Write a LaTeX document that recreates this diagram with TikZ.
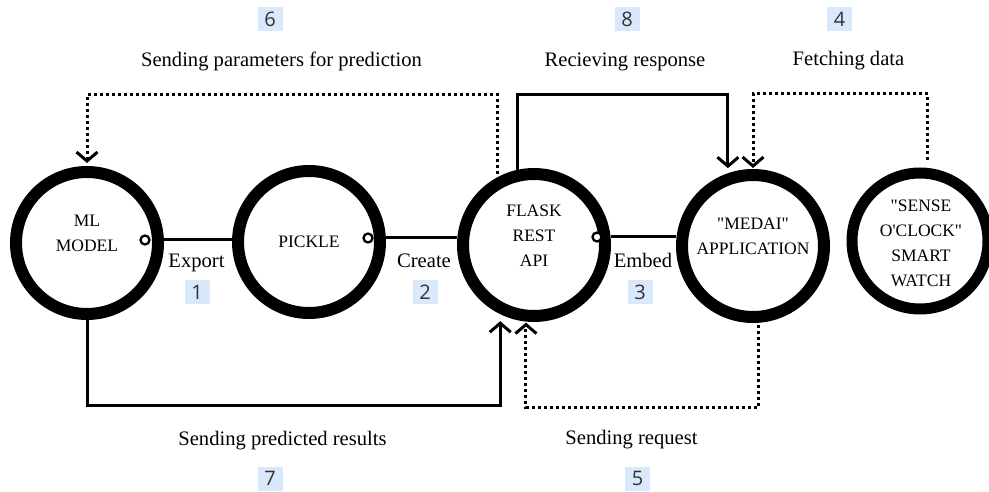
\documentclass[tikz,border=0pt]{standalone}
\usepackage{fontspec}
\setmainfont{Liberation Serif}
\newfontfamily\numfont{Open Sans}
\usetikzlibrary{arrows.meta,calc}
\definecolor{numblue}{HTML}{DAE8FC}
\definecolor{numtext}{HTML}{333333}
\tikzset{
  ring/.style={circle, draw=black, line width=12pt, minimum size=142pt, inner sep=0pt},
  ringtext/.style={align=center, font=\fontsize{17.5}{25}\selectfont},
  lbl/.style={anchor=base, font=\fontsize{20.6}{24}\selectfont},
  numbox/.style={fill=numblue, minimum width=25pt, minimum height=24pt, inner sep=0pt,
    text=numtext, font=\numfont\fontsize{20}{20}\selectfont},
  conn/.style={line width=3pt, draw=black},
  dots/.style={line width=3pt, draw=black, dash pattern=on 2.8pt off 3.2pt},
  arr/.style={-{Straight Barb[length=9pt,width=21pt]}},
  marker/.style={circle, draw=black, fill=white, line width=2.3pt, minimum size=9pt, inner sep=0pt}
}
\begin{document}
\begin{tikzpicture}[x=1pt,y=-1pt]
\useasboundingbox (0,0) rectangle (989,492);

% circles
\node[ring] (ml) at (87,243) {};
\node[ring] (pickle) at (309,242) {};
\node[ring] (flask) at (534,245) {};
\node[ring] (medai) at (753,246) {};
\node[ring, line width=11pt, minimum size=136pt] (sense) at (920,241) {};

% texts in circles
\node[ringtext] (tml) at (87,233.5) {ML\\MODEL};
\node[ringtext] (tpickle) at (309,241.5) {PICKLE};
\node[ringtext] (tflask) at (534,236) {FLASK\\REST\\API};
\node[ringtext] (tmedai) at (753,236) {\textquotedbl MEDAI\textquotedbl\\APPLICATION};
\node[ringtext] (tsense) at (921,243.5) {\textquotedbl SENSE\\O\textquotesingle CLOCK\textquotedbl\\SMART\\WATCH};

% horizontal connectors
\draw[conn] (ml.east) ++(0,-3) coordinate (a1) -- (a1 -| pickle.west);
\draw[conn] (pickle.east) ++(0,-4) coordinate (a2) -- (a2 -| flask.west);
\draw[conn] (flask.east) ++(0,-8) coordinate (a3) -- (a3 -| medai.west);
\node[marker] (m1) at ($(ml.east)+(-19,-3)$) {};
\node[marker] (m2) at ($(pickle.east)+(-18,-4)$) {};
\node[marker] (m3) at ($(flask.east)+(-14,-8)$) {};

% labels on horizontal connectors
\node[lbl] (lexport) at (196.5,268) {Export};
\node[lbl] (lcreate) at (424,268) {Create};
\node[lbl] (lembed) at (643,268) {Embed};
\node[numbox] (n1) at (197,292) {1};
\node[numbox] (n2) at (425,292) {2};
\node[numbox] (n3) at (640,292) {3};

% 6: sending parameters (dotted, flask -> ml)
\draw[dots, arr, shorten <=3pt] (flask.118) |- (ml.north |- 0,95) -- ([yshift=3pt]ml.north);
% 8: receiving response (solid, flask -> medai)
\draw[conn, arr] (flask.102) |- (medai.109 |- 0,95) -- ([yshift=5pt]medai.109);
% 4: fetching data (dotted, sense -> medai)
\draw[dots, arr, shorten <=8pt] (sense.84) |- (medai.north |- 0,94) -- ([yshift=1pt]medai.north);
% 7: sending predicted results (solid, ml -> flask)
\draw[conn, arr] (ml.south) |- (flask.244.6 |- 0,405) -- ([yshift=-7pt]flask.244.6);
% 5: sending request (dotted, medai -> flask)
\draw[dots, arr, shorten <=2pt] (medai.-86) |- (flask.264.8 |- 0,407) -- ([yshift=-1pt]flask.264.8);

% top labels
\node[numbox] (n6) at (270,19) {6};
\node[numbox] (n8) at (627,19) {8};
\node[numbox] (n4) at (839.5,19) {4};
\node[lbl] (l6) at (281.5,66.5) {Sending parameters for prediction};
\node[lbl] (l8) at (625,66.5) {Recieving response};
\node[lbl] (l4) at (848.5,66) {Fetching data};

% bottom labels
\node[lbl] (l7) at (282.5,445) {Sending predicted results};
\node[lbl] (l5) at (631.5,444) {Sending request};
\node[numbox] (n7) at (270,478.5) {7};
\node[numbox] (n5) at (637.5,478.5) {5};
\end{tikzpicture}
\end{document}
